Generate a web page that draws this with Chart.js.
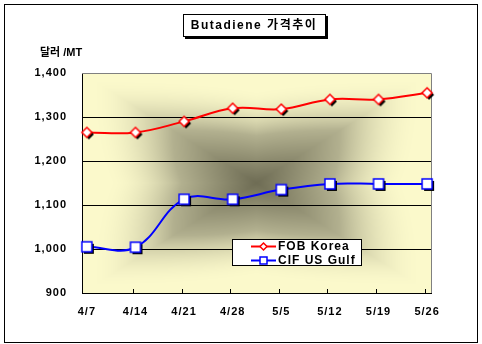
<!DOCTYPE html>
<html>
<head>
<meta charset="utf-8">
<script src="https://cdn.jsdelivr.net/npm/chart.js@4"></script>
<style>
  html, body { margin: 0; padding: 0; background: #fff; }
  #box { width: 482px; height: 344px; }
</style>
</head>
<body>
<div id="box"><canvas id="priceChart"></canvas></div>
<script>
const weeks = ["4/7", "4/14", "4/21", "4/28", "5/5", "5/12", "5/19", "5/26"];
const fobKorea = [1265, 1265, 1290, 1320, 1318, 1340, 1340, 1355];
const cifUsGulf = [1005, 1004, 1113, 1113, 1135, 1148, 1148, 1148];
const yTicks = [900, 1000, 1100, 1200, 1300, 1400];

const FONT = "'Liberation Sans', 'Noto Sans CJK KR', Arial, sans-serif";

// marker with a black drop shadow, drawn once into a small canvas
function makeMarker(shape, color, size, shadow) {
  const c = document.createElement("canvas");
  c.width = size + 6;
  c.height = size + 6;
  const g = c.getContext("2d");
  const cx = c.width / 2;
  const h = size / 2;
  const path = (x, y) => {
    g.beginPath();
    if (shape === "diamond") {
      g.moveTo(x, y - h);
      g.lineTo(x + h, y);
      g.lineTo(x, y + h);
      g.lineTo(x - h, y);
      g.closePath();
    } else {
      g.rect(x - h, y - h, size, size);
    }
  };
  if (shadow) {
    path(cx + 2, cx + 2);
    g.fillStyle = "#000";
    g.fill();
  }
  path(cx, cx);
  g.fillStyle = "#fff";
  g.fill();
  g.lineWidth = 1.5;
  g.strokeStyle = color;
  g.stroke();
  return c;
}

// "from centre" shading: dark olive in the middle, pale yellow at the rim,
// reaching a little further along the diagonals than along the axes
function makeShade(w, h) {
  const c = document.createElement("canvas");
  c.width = w;
  c.height = h;
  const g = c.getContext("2d");
  const img = g.createImageData(w, h);
  const dark = [110, 108, 84], mid = [178, 176, 143], light = [251, 249, 203];
  for (let y = 0; y < h; y++) {
    for (let x = 0; x < w; x++) {
      const u = Math.abs(x + 0.5 - w / 2) / (w / 2);
      const v = Math.abs(y + 0.5 - h / 2) / (h / 2);
      const r = Math.sqrt(u * u + v * v);
      const star = Math.max(u, v) - 0.45 * Math.min(u, v);
      let d = 0.4 * r + 0.6 * star;
      d = Math.min(1, Math.max(0, d / 0.95));
      let col;
      if (d < 0.45) {
        const t = d / 0.45;
        col = dark.map((c0, k) => c0 + (mid[k] - c0) * t);
      } else {
        const t = Math.min(1, (d - 0.45) / 0.45);
        const e = 1 - (1 - t) * (1 - t);
        col = mid.map((c0, k) => c0 + (light[k] - c0) * e);
      }
      const i = (y * w + x) * 4;
      img.data[i] = col[0];
      img.data[i + 1] = col[1];
      img.data[i + 2] = col[2];
      img.data[i + 3] = 255;
    }
  }
  g.putImageData(img, 0, 0);
  return c;
}

const series = [
  { label: "FOB Korea", data: fobKorea, color: "#ff0000", shape: "diamond", size: 10 },
  { label: "CIF US Gulf", data: cifUsGulf, color: "#0000ff", shape: "square", size: 10 },
];

let shade = null;

const frame = {
  id: "frame",
  beforeDraw(chart) {
    const ctx = chart.ctx;
    const a = chart.chartArea;
    ctx.letterSpacing = "1px";
    ctx.save();
    ctx.fillStyle = "#fff";
    ctx.fillRect(0, 0, chart.width, chart.height);
    const w = Math.round(a.right - a.left), h = Math.round(a.bottom - a.top);
    if (!shade || shade.width !== w || shade.height !== h) shade = makeShade(w, h);
    ctx.drawImage(shade, Math.round(a.left), Math.round(a.top));
    ctx.restore();
  },
  beforeDatasetsDraw(chart) {
    const ctx = chart.ctx;
    const a = chart.chartArea;
    ctx.save();
    ctx.strokeStyle = "#808080";
    ctx.lineWidth = 1;
    ctx.beginPath();
    ctx.moveTo(a.left, a.top + 0.5);
    ctx.lineTo(a.right + 0.5, a.top + 0.5);
    ctx.lineTo(a.right + 0.5, a.bottom);
    ctx.stroke();
    // small inside tick marks on the category axis
    ctx.strokeStyle = "#000";
    const xs = chart.scales.x;
    ctx.beginPath();
    for (let i = 1; i < weeks.length; i++) {
      const x = Math.round(xs.getPixelForValue(i - 0.05)) + 0.5;
      ctx.moveTo(x, a.bottom);
      ctx.lineTo(x, a.bottom - 4);
    }
    ctx.stroke();
    ctx.restore();
  },
  afterDraw(chart) {
    const ctx = chart.ctx;
    ctx.save();
    // outer border
    ctx.strokeStyle = "#000";
    ctx.lineWidth = 1;
    ctx.strokeRect(4.5, 4.5, 473, 338);

    // title box with shadow
    ctx.fillStyle = "#000";
    ctx.fillRect(185, 16, 143, 23);
    ctx.fillStyle = "#fff";
    ctx.fillRect(183, 14, 143, 23);
    ctx.strokeRect(183.5, 14.5, 142, 22);
    ctx.fillStyle = "#000";
    ctx.font = "bold 12px " + FONT;
    ctx.textAlign = "center";
    ctx.textBaseline = "middle";
    ctx.letterSpacing = "1.5px";
    ctx.fillText("Butadiene 가격추이", 254, 26);

    // unit label above the value axis
    ctx.letterSpacing = "0px";
    ctx.font = "bold 11px " + FONT;
    ctx.textAlign = "left";
    ctx.fillText("달러 /MT", 40, 53);

    // legend
    const lx = 232, ly = 239;
    ctx.fillStyle = "#fff";
    ctx.fillRect(lx, ly, 130, 27);
    ctx.strokeRect(lx + 0.5, ly + 0.5, 129, 26);
    ctx.letterSpacing = "1px";
    ctx.font = "bold 12px " + FONT;
    series.forEach((s, i) => {
      const y = ly + 7.5 + i * 14;
      ctx.strokeStyle = s.color;
      ctx.lineWidth = 2;
      ctx.beginPath();
      ctx.moveTo(251, y);
      ctx.lineTo(276, y);
      ctx.stroke();
      const m = makeMarker(s.shape, s.color, 7, false);
      ctx.drawImage(m, 263.5 - m.width / 2, y - m.height / 2);
      ctx.fillStyle = "#000";
      ctx.fillText(s.label, 278, y + 0.5);
    });
    ctx.restore();
  },
};

new Chart(document.getElementById("priceChart"), {
  type: "line",
  data: {
    datasets: series.map((s) => ({
      label: s.label,
      data: s.data.map((v, i) => ({ x: i, y: v })),
      borderColor: s.color,
      borderWidth: 2,
      tension: 0.4,
      pointStyle: makeMarker(s.shape, s.color, s.size, true),
      pointRadius: 6,
      clip: false,
    })),
  },
  options: {
    responsive: true,
    maintainAspectRatio: false,
    animation: false,
    layout: { padding: { left: 0, right: 51, top: 73, bottom: 0 } },
    plugins: {
      legend: { display: false },
      tooltip: { enabled: false },
    },
    scales: {
      x: {
        type: "linear",
        min: -0.1,
        max: 7.08,
        afterFit: (scale) => { scale.height = 51; },
        afterBuildTicks: (scale) => {
          scale.ticks = weeks.map((_, i) => ({ value: i }));
        },
        grid: { display: false, drawTicks: false },
        border: { display: true, color: "#000", width: 1 },
        ticks: {
          padding: 12,
          color: "#000",
          font: { family: FONT, size: 11, weight: "bold" },
          callback: (v) => weeks[v],
        },
      },
      y: {
        min: yTicks[0],
        max: yTicks[yTicks.length - 1],
        afterFit: (scale) => { scale.width = 82; },
        afterBuildTicks: (scale) => {
          scale.ticks = yTicks.map((v) => ({ value: v }));
        },
        grid: {
          color: (c) => (c.tick && c.tick.value === 1400 ? "rgba(0,0,0,0)" : "#000"),
          lineWidth: 1,
          drawTicks: false,
        },
        border: { display: true, color: "#000", width: 1 },
        ticks: {
          padding: 15,
          color: "#000",
          font: { family: FONT, size: 11, weight: "bold" },
          callback: (v) => v.toLocaleString("en-US"),
        },
      },
    },
  },
  plugins: [frame],
});
</script>
</body>
</html>
